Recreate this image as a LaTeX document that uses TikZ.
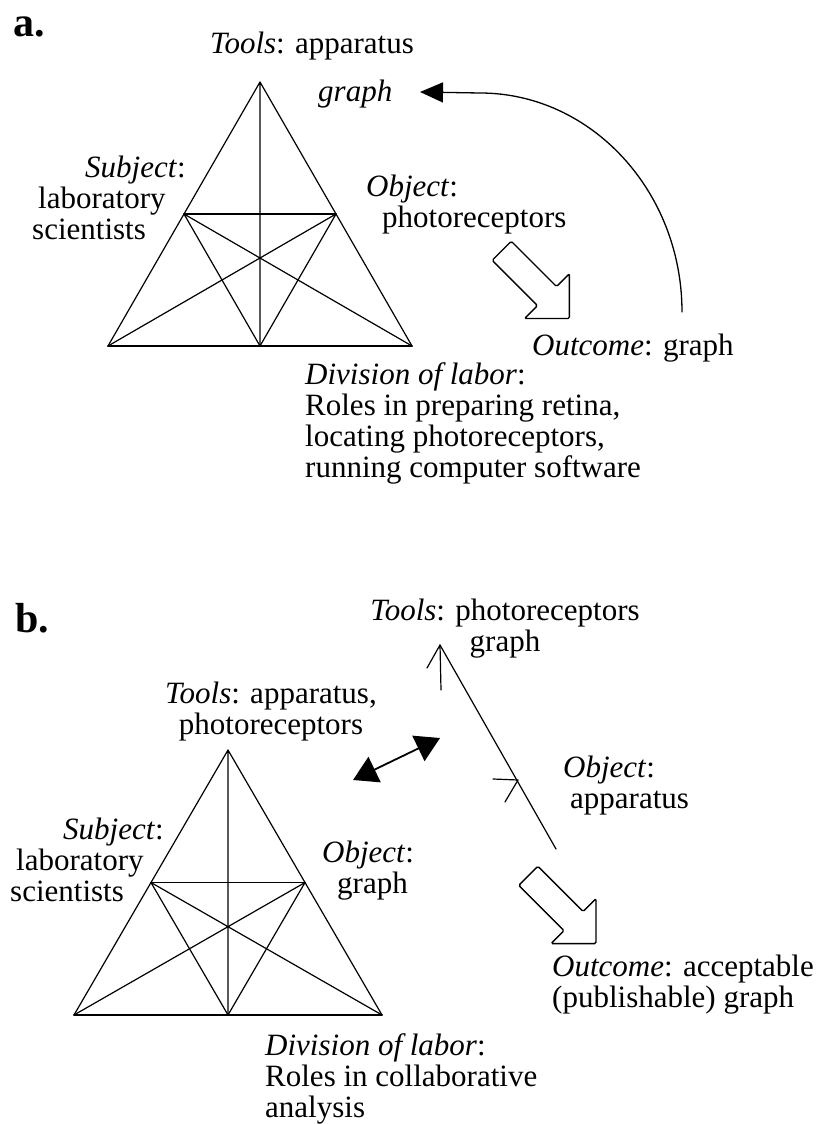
\documentclass[tikz,border=0pt]{standalone}
\usepackage{fontspec}
\setmainfont{Liberation Serif}
\usetikzlibrary{arrows.meta,positioning}
\tikzset{
  activity diagram/.style={
    x=1pt,
    y=-1pt,
    font=\fontsize{31}{31}\selectfont,
    line cap=round,
    line join=round
  },
  labeltext/.style={
    inner sep=0pt,
    align=left,
    anchor=base west
  },
  centertext/.style={
    inner sep=0pt,
    align=center,
    anchor=base
  },
  panelmark/.style={
    inner sep=0pt,
    anchor=base west,
    font=\fontsize{42}{42}\selectfont\bfseries
  },
  triline/.style={
    draw=black,
    line width=1.2pt
  },
  tribase/.style={
    draw=black,
    line width=1.7pt
  },
  thinline/.style={
    draw=black,
    line width=1.2pt
  },
  curvearrow/.style={
    -{Triangle[length=23pt,width=20pt]},
    line width=1.3pt
  },
  swaparrow/.style={
    {Triangle[length=24pt,width=28pt]}-{Triangle[length=24pt,width=28pt]},
    line width=1.8pt
  },
  hollowarrow/.pic={
    \draw[line width=1.4pt, line join=miter, rounded corners=1.5pt]
      (0,-13.5) -- (64,-13.5) -- (64,-31.8) -- (95.8,0)
      -- (64,31.8) -- (64,13.5) -- (0,13.5) -- cycle;
  }
}

\begin{document}
\begin{tikzpicture}[activity diagram]
\useasboundingbox (0,0) rectangle (822,1124);

% panel a
\node[panelmark] (marka) at (13,37) {a.};
\coordinate (apexA) at (260,82);
\coordinate (blA) at (108,346);
\coordinate (brA) at (412,346);
\coordinate (bmA) at (260,346);
\coordinate (mlA) at (184,214);
\coordinate (mrA) at (336,214);
\draw[triline] (apexA) -- (blA) (apexA) -- (brA) (apexA) -- (bmA);
\draw[tribase] (blA) -- (brA) (mlA) -- (mrA);
\draw[triline] (mlA) -- (brA) (mlA) -- (bmA) (mrA) -- (blA) (mrA) -- (bmA);

\node[centertext] (toolsA) at (312,53) {\textit{Tools}: apparatus};
\node[labeltext] (graphA) at (318,101) {\textit{graph}};
\node[labeltext] (subjA) at (32,239) {\hspace*{53pt}\textit{Subject}:\\\hspace*{6pt}laboratory\\scientists};
\node[labeltext] (objA) at (366,227) {\textit{Object}:\\\hspace*{16pt}photoreceptors};
\node[labeltext] (outA) at (532,355) {\textit{Outcome}: graph};
\node[labeltext] (divA) at (305,477) {\textit{Division of labor}:\\Roles in preparing retina,\\locating photoreceptors,\\running computer software};

\coordinate (arcA) at (682,312);
\coordinate (arctopA) at (480,93);
\coordinate (tipA) at (420,92);
\draw[curvearrow] (arcA) .. controls (682,191) and (591,93) .. (arctopA) -- (tipA);
\pic[rotate=-45] at (501.7,250.8) {hollowarrow};

% panel b
\node[panelmark] (markb) at (15,632) {b.};
\coordinate (apexB) at (228,750);
\coordinate (blB) at (74,1015);
\coordinate (brB) at (382,1015);
\coordinate (bmB) at (228,1015);
\coordinate (mlB) at (151,882.5);
\coordinate (mrB) at (305,882.5);
\draw[triline] (apexB) -- (blB) (apexB) -- (brB) (apexB) -- (bmB);
\draw[tribase] (blB) -- (brB) (mlB) -- (mrB);
\draw[triline] (mlB) -- (brB) (mlB) -- (bmB) (mrB) -- (blB) (mrB) -- (bmB);

\node[centertext] (toolsB) at (271,734) {\textit{Tools}: apparatus,\\photoreceptors};
\node[labeltext] (subjB) at (10,901) {\hspace*{53pt}\textit{Subject}:\\\hspace*{6pt}laboratory\\scientists};
\node[labeltext] (objB) at (322,893) {\textit{Object}:\\\hspace*{15pt}graph};
\node[centertext] (toolsC) at (505,651) {\textit{Tools}: photoreceptors\\graph};
\node[labeltext] (objC) at (563,808) {\textit{Object}:\\\hspace*{7pt}apparatus};
\node[labeltext] (outB) at (552,1007) {\textit{Outcome}: acceptable\\(publishable) graph};
\node[labeltext] (divB) at (265,1117) {\textit{Division of labor}:\\Roles in collaborative\\analysis};

\coordinate (swapL) at (353,780);
\coordinate (swapR) at (440,738);
\draw[swaparrow] (swapL) -- (swapR);

\coordinate (lineTop) at (440,645);
\coordinate (lineEnd) at (556,849);
\coordinate (barbL) at (427,668);
\coordinate (barbD) at (441,690);
\coordinate (midTip) at (518,780);
\coordinate (midW) at (493,779);
\coordinate (midS) at (505,802);
\draw[thinline] (lineEnd) -- (lineTop);
\draw[thinline] (barbL) -- (lineTop) -- (barbD);
\draw[thinline] (midW) -- (midTip) -- (midS);
\pic[rotate=-45] at (528.3,875.8) {hollowarrow};
\end{tikzpicture}
\end{document}
